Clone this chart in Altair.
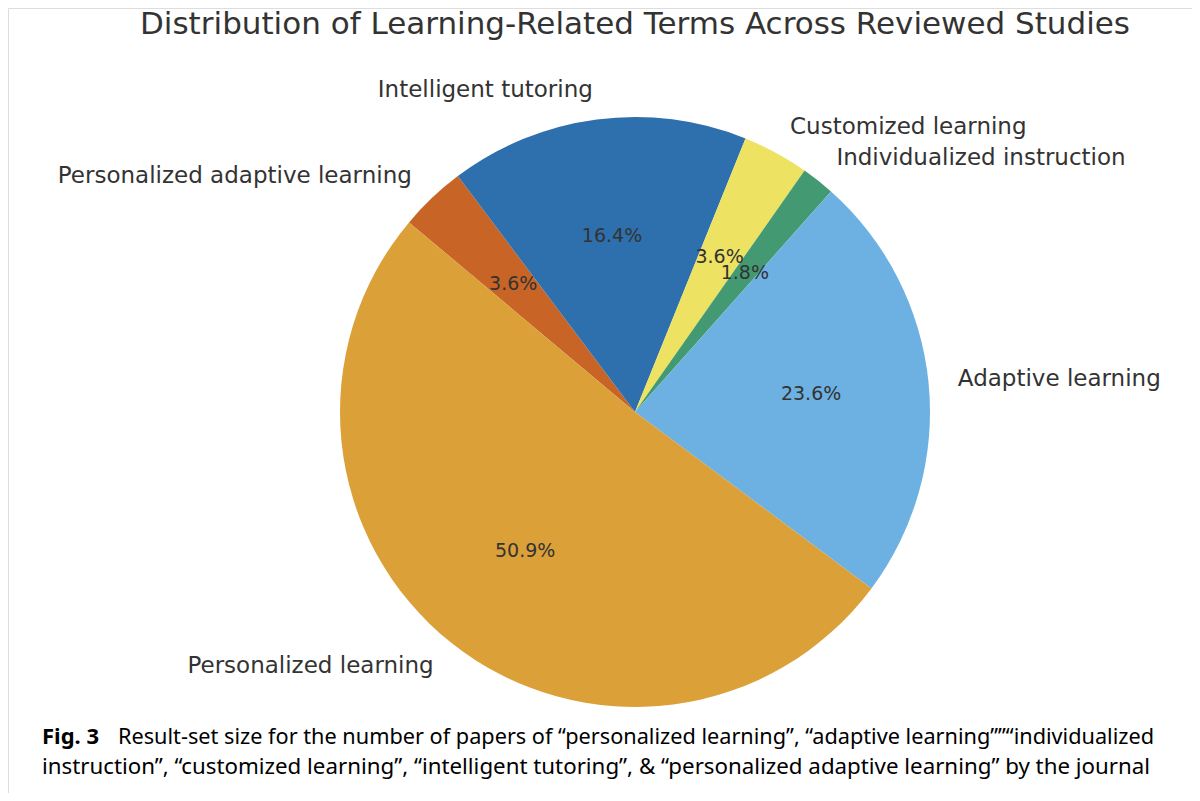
import math
import altair as alt
import pandas as pd

# Data (matplotlib-style counter-clockwise order reversed for clockwise Vega drawing)
categories = ["Personalized adaptive learning", "Intelligent tutoring", "Customized learning",
              "Individualized instruction", "Adaptive learning", "Personalized learning"]
counts = [2, 9, 2, 1, 13, 28]
colors = ["#C86526", "#2E6FAD", "#EDE262", "#439A72", "#6DB1E3", "#DBA038"]

title_text = "Distribution of Learning-Related Terms Across Reviewed Studies"
caption_bold = "Fig. 3"
caption_line1 = "Result-set size for the number of papers of \u201cpersonalized learning\u201d, \u201cadaptive learning\u201d\u201d\u201cindividualized"
caption_line2 = "instruction\u201d, \u201ccustomized learning\u201d, \u201cintelligent tutoring\u201d, & \u201cpersonalized adaptive learning\u201d by the journal"

df = pd.DataFrame({"cat": categories, "value": counts, "idx": list(range(len(categories)))})

W, H = 1184, 785
CX, CY = 627, 404
R = 295
start = -50 * math.pi / 180
theta_scale = alt.Scale(range=[start, start + 2 * math.pi])

base = alt.Chart(df).transform_joinaggregate(
    total="sum(value)"
).transform_window(
    cum="sum(value)", sort=[alt.SortField("idx")], frame=[None, 0]
).transform_calculate(
    mid=f"(datum.cum - datum.value/2)/datum.total*2*PI + ({start})",
    side="sin(datum.mid) >= 0 ? 'right' : 'left'",
    pct="format(datum.value/datum.total*100, '.1f') + '%'",
)

enc = dict(
    theta=alt.Theta("value:Q", stack=True, scale=theta_scale),
    order=alt.Order("idx:Q"),
    x=alt.value(CX),
    y=alt.value(CY),
)

pie = base.mark_arc(stroke=None).encode(
    color=alt.Color("cat:N", scale=alt.Scale(domain=categories, range=colors), legend=None),
    radius=alt.value(R),
    **enc,
)

pct = base.mark_text(fontSize=19, font="DejaVu Sans", color="#333333", baseline="middle", align="center").encode(
    text=alt.Text("pct:N"), radius=alt.value(R * 0.6), **enc
)

lab_r = base.mark_text(fontSize=23, font="DejaVu Sans", color="#333333", baseline="middle", align="left").encode(
    text=alt.condition("datum.side == 'right'", alt.Text("cat:N"), alt.value("")),
    radius=alt.value(R * 1.1), **enc
)
lab_l = base.mark_text(fontSize=23, font="DejaVu Sans", color="#333333", baseline="middle", align="right").encode(
    text=alt.condition("datum.side == 'left'", alt.Text("cat:N"), alt.value("")),
    radius=alt.value(R * 1.1), **enc
)

txt = pd.DataFrame({"t": [title_text]})
title = alt.Chart(txt).mark_text(fontSize=31, font="DejaVu Sans", color="#333333", align="center", baseline="middle").encode(
    text="t:N", x=alt.value(627), y=alt.value(17)
)

cap_b = alt.Chart(pd.DataFrame({"t": [caption_bold]})).mark_text(
    fontSize=22, font="Noto Sans", fontWeight="bold", color="#000000", align="left", baseline="middle"
).encode(text="t:N", x=alt.value(34), y=alt.value(729))
cap1 = alt.Chart(pd.DataFrame({"t": [caption_line1]})).mark_text(
    fontSize=21.7, font="Noto Sans", color="#000000", align="left", baseline="middle"
).encode(text="t:N", x=alt.value(110), y=alt.value(729))
cap2 = alt.Chart(pd.DataFrame({"t": [caption_line2]})).mark_text(
    fontSize=22.3, font="Noto Sans", color="#000000", align="left", baseline="middle"
).encode(text="t:N", x=alt.value(34), y=alt.value(759))

chart = alt.layer(pie, pct, lab_r, lab_l, title, cap_b, cap1, cap2).properties(
    width=W, height=H, autosize=alt.AutoSizeParams(type="none"), padding=0
).configure_view(stroke=None).configure(background="white")

chart.save("out.html", embed_options={"renderer": "svg", "actions": False})
